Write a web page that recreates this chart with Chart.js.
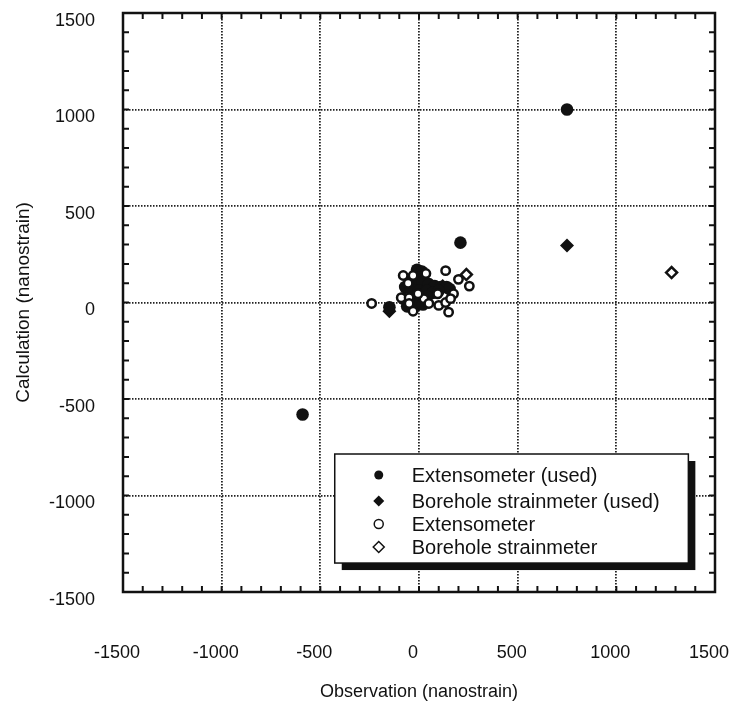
<!DOCTYPE html>
<html>
<head>
<meta charset="utf-8">
<script src="https://cdn.jsdelivr.net/npm/chart.js@4"></script>
<style>
  html, body { margin: 0; padding: 0; background: #fff; }
  #wrap { width: 732px; height: 703px; }
</style>
</head>
<body>
<div id="wrap"><canvas id="scatterChart" width="732" height="703"></canvas></div>
<script>
// observation (x) vs calculation (y), nanostrain
const extUsedX = [750, 210, -590, -10, 15, 0, -30, 20, 50, 80, 110, 140, 155, -70, -40, 0, 40, 70, 100, -80, -50, -20, 10, 40, -60, -20, 20, -150];
const extUsedY = [1000, 310, -580, 170, 160, 130, 110, 105, 95, 85, 80, 80, 70, 80, 70, 60, 60, 50, 60, 20, 10, 30, 20, 30, -20, -20, -10, -25];

const boreUsedX = [750, -150, 120];
const boreUsedY = [295, -45, 85];

const extX = [-240, -80, -30, -55, 35, 135, 200, 255, -90, -50, 25, 50, 100, 135, 150, 175, 160, 95, -30, -50, -5];
const extY = [-5, 140, 140, 100, 150, 165, 120, 85, 25, 25, 20, -5, -15, 0, -50, 45, 20, 45, -45, -5, 45];

const boreX = [1280, 240];
const boreY = [155, 145];

const legendLabels = ['Extensometer (used)', 'Borehole strainmeter (used)', 'Extensometer', 'Borehole strainmeter'];

const FONT = '"Liberation Sans", Arial, Helvetica, sans-serif';

function toPoints(xs, ys) {
    return xs.map((x, i) => ({ x: x, y: ys[i] }));
}

// frame, inward minor ticks and the boxed legend
const framePlugin = {
    id: 'frame',
    afterDatasetsDraw(chart) {
        const ctx = chart.ctx;
        const a = chart.chartArea;
        const xs = chart.scales.x;
        const ys = chart.scales.y;
        ctx.save();
        ctx.strokeStyle = '#111';
        ctx.lineWidth = 2;
        for (let v = -1400; v <= 1400; v += 100) {
            const px = xs.getPixelForValue(v);
            const py = ys.getPixelForValue(v);
            ctx.beginPath();
            ctx.moveTo(px, a.bottom); ctx.lineTo(px, a.bottom - 6);
            ctx.moveTo(px, a.top); ctx.lineTo(px, a.top + 6);
            ctx.moveTo(a.left, py); ctx.lineTo(a.left + 6, py);
            ctx.moveTo(a.right, py); ctx.lineTo(a.right - 6, py);
            ctx.stroke();
        }
        ctx.lineWidth = 2.5;
        ctx.strokeRect(a.left, a.top, a.right - a.left, a.bottom - a.top);

        // legend box with drop shadow
        const bx = xs.getPixelForValue(-427);
        const bx2 = xs.getPixelForValue(1365);
        const by = ys.getPixelForValue(-785);
        const by2 = ys.getPixelForValue(-1350);
        ctx.fillStyle = '#111';
        ctx.fillRect(bx + 7, by + 7, bx2 - bx, by2 - by);
        ctx.fillStyle = '#fff';
        ctx.fillRect(bx, by, bx2 - bx, by2 - by);
        ctx.lineWidth = 1.5;
        ctx.strokeRect(bx, by, bx2 - bx, by2 - by);

        const rows = [by + 21, by + 47, by + 70, by + 93];
        chart.data.datasets.forEach(ds => {
            const i = legendLabels.indexOf(ds.label);
            ctx.fillStyle = ds.backgroundColor;
            ctx.strokeStyle = ds.borderColor;
            Chart.helpers.drawPoint(ctx, {
                pointStyle: ds.pointStyle,
                radius: ds.pointStyle === 'rectRot' ? 5.5 : 4.5,
                rotation: 0,
                borderWidth: ds.pointBorderWidth
            }, bx + 44, rows[i]);
            ctx.fillStyle = '#111';
            ctx.font = '20px ' + FONT;
            ctx.textAlign = 'left';
            ctx.textBaseline = 'middle';
            ctx.fillText(ds.label, bx + 77, rows[i] + 1);
        });
        ctx.restore();
    }
};

const ctx = document.getElementById('scatterChart').getContext('2d');
new Chart(ctx, {
    type: 'scatter',
    data: {
        datasets: [
            {
                label: legendLabels[2],
                data: toPoints(extX, extY),
                pointStyle: 'circle',
                pointRadius: 4.2,
                pointBorderWidth: 2.5,
                backgroundColor: '#fff',
                borderColor: '#111',
                order: 0
            },
            {
                label: legendLabels[3],
                data: toPoints(boreX, boreY),
                pointStyle: 'rectRot',
                pointRadius: 5.5,
                pointBorderWidth: 2.5,
                backgroundColor: '#fff',
                borderColor: '#111',
                order: 1
            },
            {
                label: legendLabels[0],
                data: toPoints(extUsedX, extUsedY),
                pointStyle: 'circle',
                pointRadius: 6.3,
                pointBorderWidth: 0,
                backgroundColor: '#111',
                borderColor: '#111',
                order: 2
            },
            {
                label: legendLabels[1],
                data: toPoints(boreUsedX, boreUsedY),
                pointStyle: 'rectRot',
                pointRadius: 7,
                pointBorderWidth: 0,
                backgroundColor: '#111',
                borderColor: '#111',
                order: 3
            }
        ]
    },
    options: {
        responsive: false,
        animation: false,
        layout: { padding: { top: 13, right: 17, left: 0, bottom: 0 } },
        plugins: {
            legend: { display: false },
            tooltip: { enabled: false }
        },
        scales: {
            x: {
                type: 'linear',
                min: -1500,
                max: 1500,
                afterFit: s => { s.height = 111; s.paddingLeft = 0; s.paddingRight = 0; },
                ticks: {
                    stepSize: 500,
                    color: '#111',
                    padding: 50,
                    labelOffset: -6,
                    callback: v => String(v),
                    font: { family: FONT, size: 18 }
                },
                grid: { color: '#222', lineWidth: 1.8, drawTicks: false },
                border: { display: false, dash: [1.5, 1.5] },
                title: {
                    display: true,
                    text: 'Observation (nanostrain)',
                    color: '#111',
                    padding: { top: 0, bottom: 0 },
                    font: { family: FONT, size: 18 }
                }
            },
            y: {
                type: 'linear',
                min: -1500,
                max: 1500,
                afterFit: s => { s.width = 123; s.paddingTop = 0; s.paddingBottom = 0; },
                ticks: {
                    stepSize: 500,
                    color: '#111',
                    padding: 28,
                    labelOffset: 8,
                    callback: v => String(v),
                    font: { family: FONT, size: 18 }
                },
                grid: { color: '#222', lineWidth: 1.8, drawTicks: false },
                border: { display: false, dash: [1.5, 1.5] },
                title: {
                    display: true,
                    text: 'Calculation (nanostrain)',
                    color: '#111',
                    padding: { top: 12, bottom: 0 },
                    font: { family: FONT, size: 19 }
                }
            }
        }
    },
    plugins: [framePlugin]
});
</script>
</body>
</html>
